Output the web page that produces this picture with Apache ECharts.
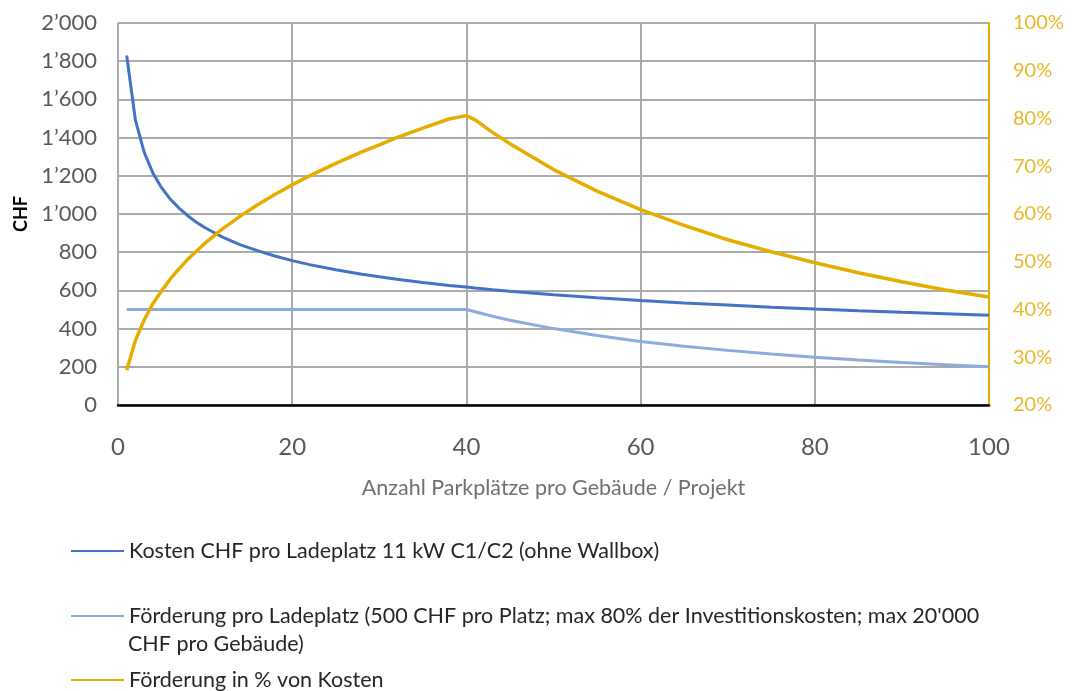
<!DOCTYPE html>
<html>
<head>
<meta charset="utf-8">
<script src="https://cdn.jsdelivr.net/npm/echarts@6/dist/echarts.min.js"></script>
<style>
  html, body { margin: 0; padding: 0; background: #ffffff; }
  #chart { width: 1074px; height: 691px; }
</style>
</head>
<body>
<div id="chart"></div>
<script>
// Number of parking spaces per building / project
const parkplaetze = [1,2,3,4,5,6,7,8,9,10,12,14,16,18,20,22,25,28,30,32,35,38,40,41,43,45,50,55,60,65,70,75,80,85,90,95,100];
// Cost per charging space in CHF
const kosten = [1830,1491,1324,1215,1138,1078,1031,991,957,928,879,840,808,780,756,735,708,685,671,658,641,626,618,612,603,595,577,561,547,534,523,512,502,493,485,478,470];
// Subsidy per charging space in CHF
const foerderung = [500,500,500,500,500,500,500,500,500,500,500,500,500,500,500,500,500,500,500,500,500,500,500,488,465,444,400,364,333,308,286,267,250,235,222,211,200];
// Subsidy as percentage of cost
const anteil = [27.3,33.5,37.8,41.2,43.9,46.4,48.5,50.5,52.2,53.9,56.9,59.5,61.9,64.1,66.1,68.0,70.6,73.0,74.5,76.0,78.0,79.9,80.6,79.7,77.1,74.7,69.3,64.8,60.9,57.6,54.6,52.1,49.8,47.7,45.8,44.1,42.6];

const xTicks = { min: 0, max: 100, interval: 20 };
const chfTicks = { min: 0, max: 2000, interval: 200 };
const pctTicks = { min: 20, max: 100, interval: 10 };

const nameKosten = 'Kosten CHF pro Ladeplatz 11 kW C1/C2 (ohne Wallbox)';
const nameFoerderung = 'Förderung pro Ladeplatz (500 CHF pro Platz; max 80% der Investitionskosten; max 20\'000 CHF pro Gebäude)';
const nameAnteil = 'Förderung in % von Kosten';
const foerderungZeile1 = 'Förderung pro Ladeplatz (500 CHF pro Platz; max 80% der Investitionskosten; max 20\'000';
const foerderungZeile2 = 'CHF pro Gebäude)';

const FONT = 'Lato, "Open Sans", "DejaVu Sans", sans-serif';
const GOLD = '#E5AD00';
const GOLD_TEXT = '#E8B828';
const LEGEND_TEXT = '#262626';

function pairs(ys) { return parkplaetze.map((x, i) => [x, ys[i]]); }

function chf(v) {
  if (v >= 1000) {
    const t = Math.floor(v / 1000);
    const r = String(v % 1000).padStart(3, '0');
    return t + '\u2019' + r;
  }
  return String(v);
}

function legendAt(name, top, label) {
  return {
    data: [name],
    orient: 'vertical',
    left: 70,
    top: top,
    padding: 0,
    itemWidth: 53,
    itemHeight: 14,
    selectedMode: false,
    // plain line icon, no marker dot
    itemStyle: { opacity: 0 },
    formatter: label ? () => label : undefined,
    textStyle: { fontFamily: FONT, fontSize: 21.5, color: LEGEND_TEXT }
  };
}

const chart = echarts.init(document.getElementById('chart'), null, { renderer: 'canvas' });

chart.setOption({
  animation: false,
  backgroundColor: '#ffffff',
  grid: { left: 118, right: 85, top: 23, bottom: 286, containLabel: false },
  legend: [
    legendAt(nameKosten, 540),
    legendAt(nameFoerderung, 605, foerderungZeile1),
    legendAt(nameAnteil, 669)
  ],
  graphic: [{
    type: 'text',
    left: 128,
    top: 633,
    style: { text: foerderungZeile2, fontFamily: FONT, fontSize: 21.5, fill: LEGEND_TEXT }
  }],
  xAxis: {
    type: 'value',
    min: xTicks.min, max: xTicks.max, interval: xTicks.interval,
    name: 'Anzahl Parkplätze pro Gebäude / Projekt',
    nameLocation: 'middle',
    nameGap: 72,
    nameTextStyle: { fontFamily: FONT, fontSize: 21.5, color: '#707070' },
    axisLine: { show: true, onZero: false, lineStyle: { color: '#000000', width: 2.5 } },
    axisTick: { show: false },
    axisLabel: { fontFamily: FONT, fontSize: 24, color: '#595959', margin: 30 },
    splitLine: { show: true, lineStyle: { color: '#ABABAB', width: 2 } }
  },
  yAxis: [{
    type: 'value',
    min: chfTicks.min, max: chfTicks.max, interval: chfTicks.interval,
    name: 'CHF',
    nameLocation: 'middle',
    nameRotate: 90,
    nameGap: 88,
    nameTextStyle: { fontFamily: FONT, fontSize: 18, fontWeight: 'bold', color: '#000000' },
    axisLine: { show: false },
    axisTick: { show: false },
    axisLabel: { fontFamily: FONT, fontSize: 22, color: '#595959', margin: 21, formatter: chf },
    splitLine: { show: true, lineStyle: { color: '#ABABAB', width: 2 } }
  }, {
    type: 'value',
    position: 'right',
    min: pctTicks.min, max: pctTicks.max, interval: pctTicks.interval,
    axisLine: { show: true, lineStyle: { color: GOLD, width: 2 } },
    axisTick: { show: false },
    axisLabel: { fontFamily: FONT, fontSize: 20, color: GOLD_TEXT, margin: 24, formatter: '{value}%' },
    splitLine: { show: false }
  }],
  series: [{
    name: nameKosten,
    type: 'line',
    data: pairs(kosten),
    symbol: 'none',
    lineStyle: { color: '#4472C4', width: 3 },
    itemStyle: { color: '#4472C4' }
  }, {
    name: nameFoerderung,
    type: 'line',
    data: pairs(foerderung),
    symbol: 'none',
    lineStyle: { color: '#8FAADC', width: 3 },
    itemStyle: { color: '#8FAADC' }
  }, {
    name: nameAnteil,
    type: 'line',
    yAxisIndex: 1,
    data: pairs(anteil),
    symbol: 'none',
    lineStyle: { color: GOLD, width: 3.5 },
    itemStyle: { color: GOLD }
  }]
});
</script>
</body>
</html>
